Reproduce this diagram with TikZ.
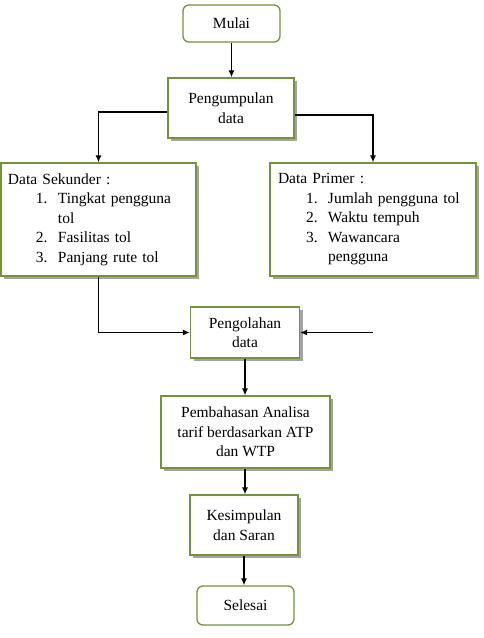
\documentclass[tikz,border=0pt]{standalone}
\usepackage{fontspec}
\setmainfont{Liberation Serif}
\usetikzlibrary{arrows.meta, shadows}
\definecolor{boxgreen}{RGB}{118,146,60}
\newcommand{\butir}[2]{\hspace*{28pt}\makebox[22pt][l]{#1}#2}
\newcommand{\lanjut}[1]{\hspace*{50pt}#1}

\begin{document}
\begin{tikzpicture}[x=1pt, y=-1pt, font=\fontsize{15.5}{19.5}\selectfont,
		kotak/.style={draw=boxgreen, line width=1.3pt, fill=white, align=center, inner sep=2pt,
			drop shadow={shadow xshift=3pt, shadow yshift=-3pt, fill=black!60, opacity=0.6}},
		ujung/.style={draw=boxgreen, line width=1.3pt, rounded corners=6pt, fill=white},
		daftar/.style={kotak, align=left},
		panah/.style={-{Latex[length=7pt,width=6pt]}, line width=1.2pt}]
				\useasboundingbox (0,0) rectangle (483,638);
				\node[ujung, minimum width=97pt, minimum height=37pt] (mulai) at (231.5,23.5) {Mulai};
				\node[kotak, minimum width=126pt, minimum height=60pt] (kumpul) at (231,108) {Pengumpulan\\data};
				\node[daftar, text width=181pt, inner xsep=7pt, minimum height=113pt] (sekunder) at (98.5,219.5)
					{Data Sekunder :\\ \butir{1.}{Tingkat pengguna}\\ \lanjut{tol}\\ \butir{2.}{Fasilitas tol}\\ \butir{3.}{Panjang rute tol}};
				\node[daftar, text width=190pt, inner xsep=8pt, minimum height=113pt] (primer) at (373,219.5)
					{Data Primer :\\ \butir{1.}{Jumlah pengguna tol}\\ \butir{2.}{Waktu tempuh}\\ \butir{3.}{Wawancara}\\ \lanjut{pengguna}};
				\node[kotak, minimum width=109pt, minimum height=51pt] (olah) at (245,332.5) {Pengolahan\\data};
				\node[kotak, minimum width=169pt, minimum height=72pt] (bahas) at (245.5,432) {Pembahasan Analisa\\tarif berdasarkan ATP\\dan WTP};
				\node[kotak, minimum width=108pt, minimum height=60pt] (simpul) at (244,525) {Kesimpulan\\dan Saran};
				\node[ujung, minimum width=97pt, minimum height=39pt] (selesai) at (245.5,605.5) {Selesai};
				\coordinate (masuk) at (primer.south |- olah.east);
				\draw[panah] (mulai.south) -- (mulai.south |- kumpul.north);
				\draw[panah] ([yshift=-4pt]kumpul.west) -| (sekunder.north);
				\draw[panah] ([yshift=-7pt]kumpul.east) -| (primer.north);
				\draw[panah] (sekunder.south) |- (olah.west);
				\draw[panah] (masuk) -- (olah.east);
				\draw[panah] (olah.south) -- (olah.south |- bahas.north);
				\draw[panah] (bahas.south -| olah.south) -- (olah.south |- simpul.north);
				\draw[panah] (simpul.south) -- (simpul.south |- selesai.north);
			\end{tikzpicture}
\end{document}
